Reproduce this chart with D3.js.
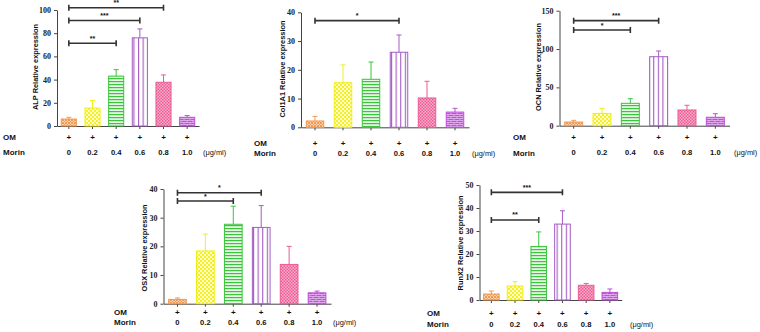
<!DOCTYPE html>
<html>
<head>
<meta charset="utf-8">
<script src="https://cdn.jsdelivr.net/npm/d3@7"></script>
<style>
  body { margin: 0; background: #fff; }
  svg { display: block; }
  .ttl, .row, .unit { font-family: "Liberation Sans", Arial, sans-serif; font-weight: bold; fill: #111; }
  .axis text { font-family: "Liberation Serif", "Times New Roman", serif; font-weight: bold; font-size: 8px; fill: #222; }
  .axis path, .axis line { stroke: #444; }
</style>
</head>
<body>
<svg id="chart" width="760" height="332"></svg>
<script>
// dose groups, all with OM
var doses = ["0", "0.2", "0.4", "0.6", "0.8", "1.0"]
var omRow = ["+", "+", "+", "+", "+", "+"]

// means and upper error (SD)
var alpMean = [6, 15.5, 43, 76, 37.7, 7.5]
var alpErr = [1.5, 6.5, 5.6, 7.7, 6.3, 1.5]
var colMean = [2.2, 15.5, 16.7, 26.1, 10.2, 5.3]
var colErr = [1.6, 6.2, 6.0, 6.0, 5.8, 1.3]
var ocnMean = [4.8, 16, 29.2, 90, 20.5, 11]
var ocnErr = [2.2, 6.7, 6, 7.4, 6.1, 4.7]
var osxMean = [1.5, 18.4, 27.7, 26.6, 13.7, 3.8]
var osxErr = [0.5, 5.9, 6.3, 7.6, 6.3, 0.6]
var runxMean = [2.6, 6.1, 23.3, 33, 6.4, 3.3]
var runxErr = [1.3, 1.9, 6.3, 5.8, 0.8, 1.5]

// significance brackets: [from group, to group, height, stars]
var alpSig = [[0, 2, 71.4, "**"], [0, 3, 91, "***"], [0, 4, 102, "**"]]
var colSig = [[0, 3, 37.1, "*"]]
var ocnSig = [[0, 3, 137, "***"], [0, 2, 124.8, "*"]]
var osxSig = [[0, 3, 38.7, "*"], [0, 2, 35.8, "*"]]
var runxSig = [[0, 3, 46.8, "***"], [0, 2, 34.8, "**"]]

var barColors = ["#f39a52", "#f2ee1a", "#3cc43c", "#a45cc4", "#ee5a95", "#c04edc"]

var svg = d3.select("#chart")
var defs = svg.append("defs")

// hatch patterns for each dose
function pattern(id, w, h, bg, draw) {
  var p = defs.append("pattern")
    .attr("id", id)
    .attr("patternUnits", "userSpaceOnUse")
    .attr("width", w).attr("height", h)
  p.append("rect").attr("width", w).attr("height", h).attr("fill", bg)
  draw(p)
}
pattern("p0", 3, 3, "#fbd2b0", p => {
  p.append("path").attr("d", "M0,0L3,3M3,0L0,3").attr("stroke", "#f39a52").attr("stroke-width", 1)
})
pattern("p1", 4, 4, "#fffbd0", p => {
  p.append("rect").attr("width", 2).attr("height", 2).attr("fill", "#f5f020")
  p.append("rect").attr("x", 2).attr("y", 2).attr("width", 2).attr("height", 2).attr("fill", "#f5f020")
})
pattern("p2", 4, 3, "#e6f8e6", p => {
  p.append("rect").attr("width", 4).attr("height", 1.2).attr("fill", "#3cc43c")
})
pattern("p3", 4.6, 4, "#ffffff", p => {
  p.append("rect").attr("width", 1.1).attr("height", 4).attr("fill", "#a45cc4")
})
pattern("p4", 3, 3, "#f7b0cc", p => {
  p.append("rect").attr("width", 1.5).attr("height", 1.5).attr("fill", "#ee5a95")
  p.append("rect").attr("x", 1.5).attr("y", 1.5).attr("width", 1.5).attr("height", 1.5).attr("fill", "#ee5a95")
})
pattern("p5", 6, 4, "#c04edc", p => {
  p.append("path").attr("d", "M0,0.5H6M0,2.5H6M1,0.5V2.5M4,2.5V4.5").attr("stroke", "#ebc8f4").attr("stroke-width", 0.7)
})

function drawPanel(o) {
  var g = svg.append("g")

  var x = d3.scaleBand()
    .domain(doses)
    .range([o.x0, o.x1])
    .paddingInner(o.pad)
    .paddingOuter(o.pad / 2)

  var y = d3.scaleLinear()
    .domain([0, o.yMax])
    .range([o.yBot, o.yTop])

  g.append("g")
    .attr("class", "axis")
    .attr("transform", "translate(" + o.x0 + ",0)")
    .call(d3.axisLeft(y).ticks(o.yMax / o.step).tickSize(3).tickSizeOuter(0))

  g.append("g")
    .attr("class", "axis")
    .attr("transform", "translate(0," + o.yBot + ")")
    .call(d3.axisBottom(x).tickSize(3).tickSizeOuter(0).tickFormat(""))

  var bars = g.selectAll(".bar")
    .data(o.mean)
    .enter()

  // error bars (upper only)
  bars.append("line")
    .attr("x1", (d, i) => x(doses[i]) + x.bandwidth() / 2)
    .attr("x2", (d, i) => x(doses[i]) + x.bandwidth() / 2)
    .attr("y1", d => y(d))
    .attr("y2", (d, i) => y(d + o.err[i]))
    .attr("stroke", (d, i) => barColors[i])
    .attr("stroke-width", 1)
  bars.append("line")
    .attr("x1", (d, i) => x(doses[i]) + x.bandwidth() / 2 - 2.5)
    .attr("x2", (d, i) => x(doses[i]) + x.bandwidth() / 2 + 2.5)
    .attr("y1", (d, i) => y(d + o.err[i]))
    .attr("y2", (d, i) => y(d + o.err[i]))
    .attr("stroke", (d, i) => barColors[i])
    .attr("stroke-width", 1)

  bars.append("rect")
    .attr("x", (d, i) => x(doses[i]) + 0.5)
    .attr("width", x.bandwidth() - 1)
    .attr("y", d => y(d))
    .attr("height", d => o.yBot - y(d))
    .attr("fill", (d, i) => "url(#p" + i + ")")
    .attr("stroke", (d, i) => barColors[i])
    .attr("stroke-width", 1)

  // significance brackets
  o.sig.forEach(s => {
    var xa = x(doses[s[0]]) + x.bandwidth() / 2
    var xb = x(doses[s[1]]) + x.bandwidth() / 2
    var yy = y(s[2])
    g.append("path")
      .attr("d", "M" + xa + "," + (yy - 3) + "V" + (yy + 3) + "M" + xa + "," + yy + "H" + xb +
        "M" + xb + "," + (yy - 3) + "V" + (yy + 3))
      .attr("stroke", "#333")
      .attr("stroke-width", 1.6)
      .attr("fill", "none")
    g.append("text")
      .attr("class", "ttl")
      .attr("x", (xa + xb) / 2)
      .attr("y", yy - 2.5)
      .attr("text-anchor", "middle")
      .style("font-size", "7px")
      .text(s[3])
  })

  g.append("text")
    .attr("class", "ttl")
    .attr("transform", "translate(" + o.titleX + "," + o.titleY + ") rotate(-90)")
    .attr("text-anchor", "middle")
    .attr("dy", "0.35em")
    .style("font-size", "7.4px")
    .text(o.title)

  // OM / Morin rows
  g.append("text").attr("class", "row").attr("x", o.labX).attr("y", o.omY)
    .attr("dy", "0.35em").style("font-size", "8px").text("OM")
  g.append("text").attr("class", "row").attr("x", o.labX).attr("y", o.morinY)
    .attr("dy", "0.35em").style("font-size", "8px").text("Morin")

  g.selectAll(".om")
    .data(omRow)
    .enter()
    .append("text")
    .attr("class", "row")
    .attr("x", (d, i) => x(doses[i]) + x.bandwidth() / 2)
    .attr("y", o.omY)
    .attr("dy", "0.35em")
    .attr("text-anchor", "middle")
    .style("font-size", "8px")
    .text(d => d)

  g.selectAll(".dose")
    .data(doses)
    .enter()
    .append("text")
    .attr("class", "row")
    .attr("x", d => x(d) + x.bandwidth() / 2)
    .attr("y", o.morinY)
    .attr("dy", "0.35em")
    .attr("text-anchor", "middle")
    .style("font-size", "7.6px")
    .text(d => d)

  g.append("text")
    .attr("class", "unit")
    .attr("x", o.unitX)
    .attr("y", o.morinY)
    .attr("dy", "0.35em")
    .style("font-size", "7.4px")
    .style("font-weight", "normal")
    .text("(\u03bcg/ml)")
}

drawPanel({ title: "ALP Relative expression", mean: alpMean, err: alpErr, sig: alpSig,
  x0: 57, x1: 199, pad: 0.32, yMax: 100, step: 20, yBot: 126, yTop: 10,
  titleX: 35, titleY: 67, labX: 3, omY: 137, morinY: 152, unitX: 203 })

drawPanel({ title: "Col1A1 Relative expression", mean: colMean, err: colErr, sig: colSig,
  x0: 301, x1: 469, pad: 0.34, yMax: 40, step: 10, yBot: 127.3, yTop: 12.3,
  titleX: 282, titleY: 69, labX: 254, omY: 142.7, morinY: 153.3, unitX: 472 })

drawPanel({ title: "OCN Relative expression", mean: ocnMean, err: ocnErr, sig: ocnSig,
  x0: 559.5, x1: 729.5, pad: 0.33, yMax: 150, step: 50, yBot: 125.7, yTop: 10.7,
  titleX: 538, titleY: 67, labX: 513, omY: 137, morinY: 152.7, unitX: 734 })

drawPanel({ title: "OSX Relative expression", mean: osxMean, err: osxErr, sig: osxSig,
  x0: 163.5, x1: 331, pad: 0.33, yMax: 40, step: 10, yBot: 303.7, yTop: 189,
  titleX: 144, titleY: 248, labX: 114, omY: 311.7, morinY: 322.5, unitX: 333 })

drawPanel({ title: "RunX2 Relative expression", mean: runxMean, err: runxErr, sig: runxSig,
  x0: 479.5, x1: 621.7, pad: 0.3, yMax: 50, step: 10, yBot: 300, yTop: 185,
  titleX: 460, titleY: 243, labX: 427, omY: 313, morinY: 324.5, unitX: 630 })
</script>
</body>
</html>
